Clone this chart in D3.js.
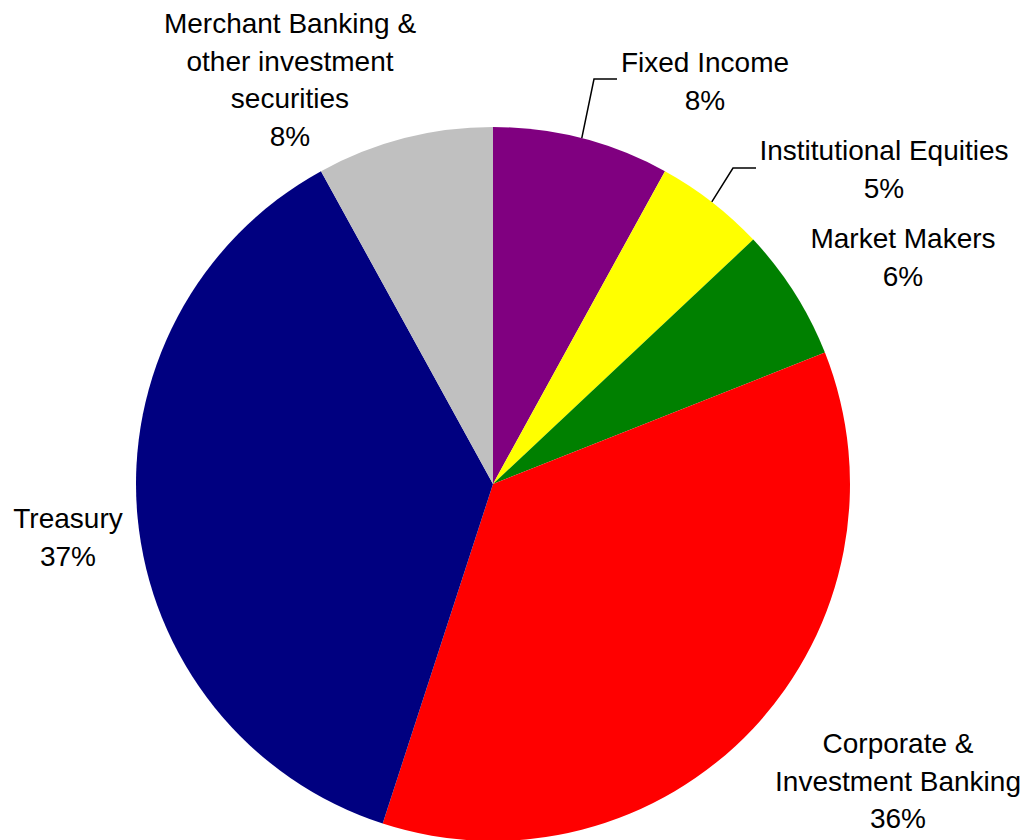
<!DOCTYPE html>
<html>
<head>
<meta charset="utf-8">
<script src="https://cdn.jsdelivr.net/npm/d3@7"></script>
<style>
  html, body { margin: 0; padding: 0; background: #fff; }
  svg { display: block; }
  text { font-family: "Liberation Sans", Arial, sans-serif; font-size: 28px; fill: #000; }
</style>
</head>
<body>
<svg id="chart" width="1022" height="840"></svg>
<script>
// Segment names (each label line separated) and their share in percent
const categories = [
  "Fixed Income",
  "Institutional Equities",
  "Market Makers",
  "Corporate & Investment Banking",
  "Treasury",
  "Merchant Banking & other investment securities"
];
const labelLines = [
  ["Fixed Income"],
  ["Institutional Equities"],
  ["Market Makers"],
  ["Corporate &", "Investment Banking"],
  ["Treasury"],
  ["Merchant Banking &", "other investment", "securities"]
];
const shares = [8, 5, 6, 36, 37, 8];
const colors = ["#800080", "#FFFF00", "#008000", "#FF0000", "#000080", "#C0C0C0"];

// Label placement: centre x and first baseline y for each label block
const labelLayout = [
  { x: 705, y: 72, leader: [[594, 79], [617, 79]] },
  { x: 884, y: 160, leader: [[733, 168], [756, 168]] },
  { x: 903, y: 248 },
  { x: 898, y: 753 },
  { x: 68, y: 528 },
  { x: 290, y: 33 }
];

const cx = 493, cy = 484, radius = 357, lineHeight = 37.5;
const svg = d3.select("#chart");

const data = categories.map((c, i) => ({ name: c, value: shares[i], i }));
const pie = d3.pie().value(d => d.value).sort(null);
const arcs = pie(data);
const arc = d3.arc().innerRadius(0).outerRadius(radius);

const g = svg.append("g").attr("transform", `translate(${cx},${cy})`);
g.selectAll("path.slice")
  .data(arcs)
  .join("path")
  .attr("class", "slice")
  .attr("d", arc)
  .attr("fill", d => colors[d.data.i]);

// Leader lines start at the slice's outer edge, at its middle angle
arcs.forEach(a => {
  const lay = labelLayout[a.data.i];
  if (!lay.leader) return;
  const mid = (a.startAngle + a.endAngle) / 2;
  const start = [cx + radius * Math.sin(mid), cy - radius * Math.cos(mid)];
  svg.append("path")
    .attr("d", d3.line()([start, ...lay.leader]))
    .attr("fill", "none")
    .attr("stroke", "#000")
    .attr("stroke-width", 1.5);
});

// Labels: name lines followed by the percentage
arcs.forEach(a => {
  const i = a.data.i;
  const lay = labelLayout[i];
  const lines = [...labelLines[i], `${shares[i]}%`];
  const t = svg.append("text").attr("text-anchor", "middle");
  lines.forEach((ln, k) => {
    t.append("tspan").attr("x", lay.x).attr("y", lay.y + k * lineHeight).text(ln);
  });
});
</script>
</body>
</html>
